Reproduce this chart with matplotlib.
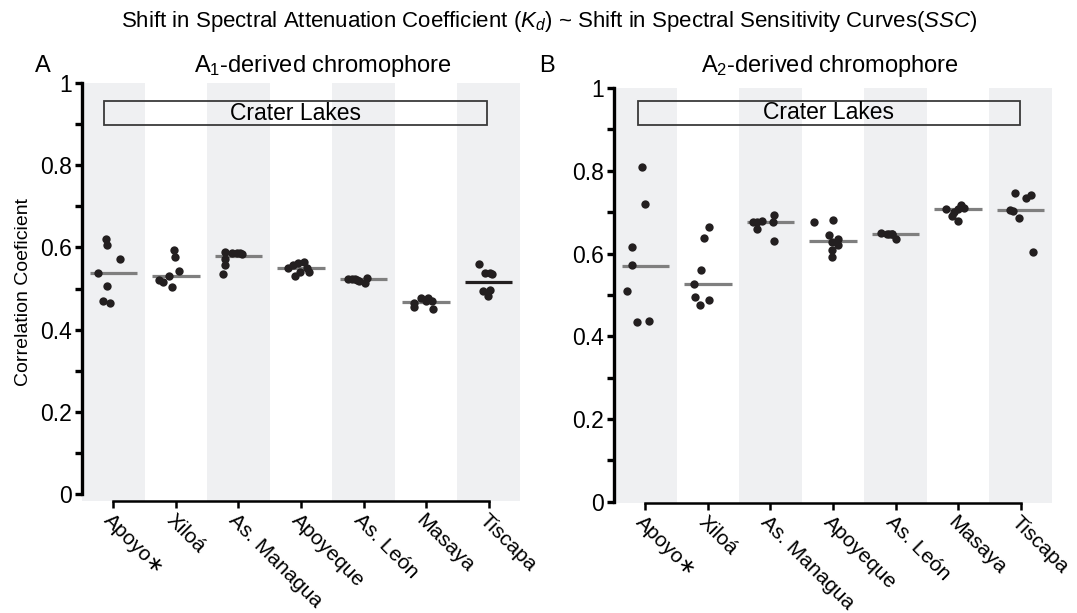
import matplotlib
matplotlib.use("Agg")
import matplotlib.pyplot as plt
from matplotlib.patches import Rectangle
from matplotlib.ticker import MultipleLocator

plt.rcParams["font.family"] = ["Liberation Sans", "DejaVu Sans"]
plt.rcParams["mathtext.fontset"] = "custom"
plt.rcParams["mathtext.rm"] = "Liberation Sans"
plt.rcParams["mathtext.it"] = "Liberation Sans:italic"

# ─────────────────────────────────────────────
# Data
# ─────────────────────────────────────────────
lakes = ["Apoyo∗", "Xiloá", "As. Managua", "Apoyeque", "As. León", "Masaya", "Tiscapa"]

# A1-derived chromophore: correlation coefficients per lake
a1_values = [
    [0.620, 0.606, 0.572, 0.537, 0.506, 0.470, 0.465],
    [0.594, 0.577, 0.543, 0.530, 0.521, 0.516, 0.504],
    [0.589, 0.586, 0.586, 0.586, 0.584, 0.572, 0.557, 0.535],
    [0.565, 0.563, 0.557, 0.549, 0.549, 0.541, 0.539, 0.530],
    [0.526, 0.524, 0.523, 0.522, 0.520, 0.518, 0.513],
    [0.477, 0.477, 0.470, 0.470, 0.465, 0.455, 0.450],
    [0.560, 0.538, 0.537, 0.535, 0.496, 0.495, 0.482],
]
a1_jitter = [
    [-0.12, -0.10, 0.11, -0.24, -0.10, -0.16, -0.06],
    [-0.03, -0.01, 0.05, -0.11, -0.27, -0.20, -0.06],
    [-0.21, -0.10, -0.03, 0.03, 0.06, -0.21, -0.21, -0.24],
    [0.04, -0.05, -0.13, -0.20, 0.10, 0.12, -0.02, -0.10],
    [0.05, -0.25, -0.19, -0.14, -0.11, -0.08, 0.02],
    [-0.08, 0.03, 0.00, 0.10, -0.19, -0.19, 0.11],
    [-0.15, -0.06, 0.02, 0.05, 0.02, -0.09, -0.01],
]
a1_median = [0.537, 0.530, 0.579, 0.551, 0.523, 0.468, 0.515]
a1_median_color = ["#7f7f7f"] * 6 + ["#231f20"]

# A2-derived chromophore
a2_values = [
    [0.808, 0.720, 0.615, 0.572, 0.510, 0.437, 0.435],
    [0.665, 0.638, 0.559, 0.526, 0.496, 0.488, 0.476],
    [0.693, 0.679, 0.677, 0.676, 0.675, 0.659, 0.631],
    [0.681, 0.675, 0.645, 0.634, 0.629, 0.621, 0.609, 0.591],
    [0.649, 0.648, 0.647, 0.647, 0.646, 0.635],
    [0.717, 0.711, 0.708, 0.708, 0.701, 0.691, 0.679],
    [0.746, 0.742, 0.734, 0.705, 0.703, 0.685, 0.603],
]
a2_jitter = [
    [-0.05, 0.00, -0.21, -0.21, -0.30, 0.06, -0.13],
    [0.02, -0.06, -0.11, -0.22, -0.21, 0.02, -0.13],
    [0.06, -0.14, 0.04, -0.22, -0.28, -0.22, 0.06],
    [0.00, -0.30, -0.06, 0.08, -0.02, 0.08, -0.02, -0.02],
    [-0.24, -0.05, -0.11, -0.06, -0.14, 0.00],
    [0.04, 0.09, -0.20, 0.00, -0.07, -0.10, 0.00],
    [-0.09, 0.16, 0.08, -0.17, -0.13, -0.03, 0.19],
]
a2_median = [0.571, 0.526, 0.677, 0.630, 0.647, 0.708, 0.705]
a2_median_color = ["#7f7f7f"] * 7

BAND = "#eff0f2"
DOT = "#231f20"


def draw_panel(ax, values, jitter, medians, med_colors, ylo, box):
    n = len(lakes)
    for i in range(0, n, 2):
        ax.axvspan(i - 0.5, i + 0.5, color=BAND, lw=0, zorder=0)
    for i in range(n):
        ax.hlines(medians[i], i - 0.38, i + 0.38, color=med_colors[i], lw=2.3, zorder=2)
        xs = [i + j for j in jitter[i]]
        ax.plot(xs, values[i], "o", color=DOT, ms=6, mec="none", zorder=3)

    x0, y0, x1, y1 = box
    ax.add_patch(Rectangle((x0, y0), x1 - x0, y1 - y0, fill=False,
                           ec="#3a3a3a", lw=1.3, zorder=4))
    ax.text((x0 + x1) / 2, (y0 + y1) / 2, "Crater Lakes", ha="center",
            va="center", fontsize=16.5, zorder=5)

    ax.set_xlim(-0.5, n - 0.5)
    ax.set_ylim(ylo, 1.0)
    for s in ["top", "right"]:
        ax.spines[s].set_visible(False)
    ax.spines["left"].set_bounds(0, 1)
    ax.spines["left"].set_linewidth(2.4)
    ax.spines["bottom"].set_bounds(0, n - 1)
    ax.spines["bottom"].set_linewidth(1.8)
    ax.yaxis.set_major_locator(MultipleLocator(0.2))
    ax.yaxis.set_minor_locator(MultipleLocator(0.1))
    ax.set_yticks([0, 0.2, 0.4, 0.6, 0.8, 1.0])
    ax.set_yticklabels(["0", "0.2", "0.4", "0.6", "0.8", "1"])
    ax.tick_params(axis="y", which="both", length=5, width=2.4, labelsize=16.5, pad=2)
    ax.set_xticks(range(n))
    ax.set_xticklabels(lakes, rotation=-45, ha="left", va="top",
                       rotation_mode="anchor", fontsize=15)
    ax.tick_params(axis="x", length=5, width=1.8, pad=2)


fig = plt.figure(figsize=(10.77, 6.13), dpi=100)
axA = fig.add_axes([82 / 1077, 1 - 501 / 613, 438 / 1077, 418 / 613])
axB = fig.add_axes([614 / 1077, 1 - 503 / 613, 438 / 1077, 415 / 613])

draw_panel(axA, a1_values, a1_jitter, a1_median, a1_median_color, -0.017,
           (-0.15, 0.898, 5.97, 0.956))
draw_panel(axB, a2_values, a2_jitter, a2_median, a2_median_color, -0.003,
           (-0.12, 0.911, 5.99, 0.969))

axA.set_ylabel("Correlation Coeficient", fontsize=14, labelpad=6)

fig.text(0.51, 1 - 22 / 613,
         "Shift in Spectral Attenuation Coefficient ($K_d$) ~ Shift in Spectral Sensitivity Curves($SSC$)",
         ha="center", va="center", fontsize=16)
fig.text(43 / 1077, 1 - 66 / 613, "A", ha="center", va="center", fontsize=17)
fig.text(323 / 1077, 1 - 66 / 613, "A$_1$-derived chromophore", ha="center", va="center", fontsize=17)
fig.text(547 / 1077, 1 - 66 / 613, "B", ha="center", va="center", fontsize=17)
fig.text(830 / 1077, 1 - 66 / 613, "A$_2$-derived chromophore", ha="center", va="center", fontsize=17)

fig.savefig("out.png", dpi=100)
